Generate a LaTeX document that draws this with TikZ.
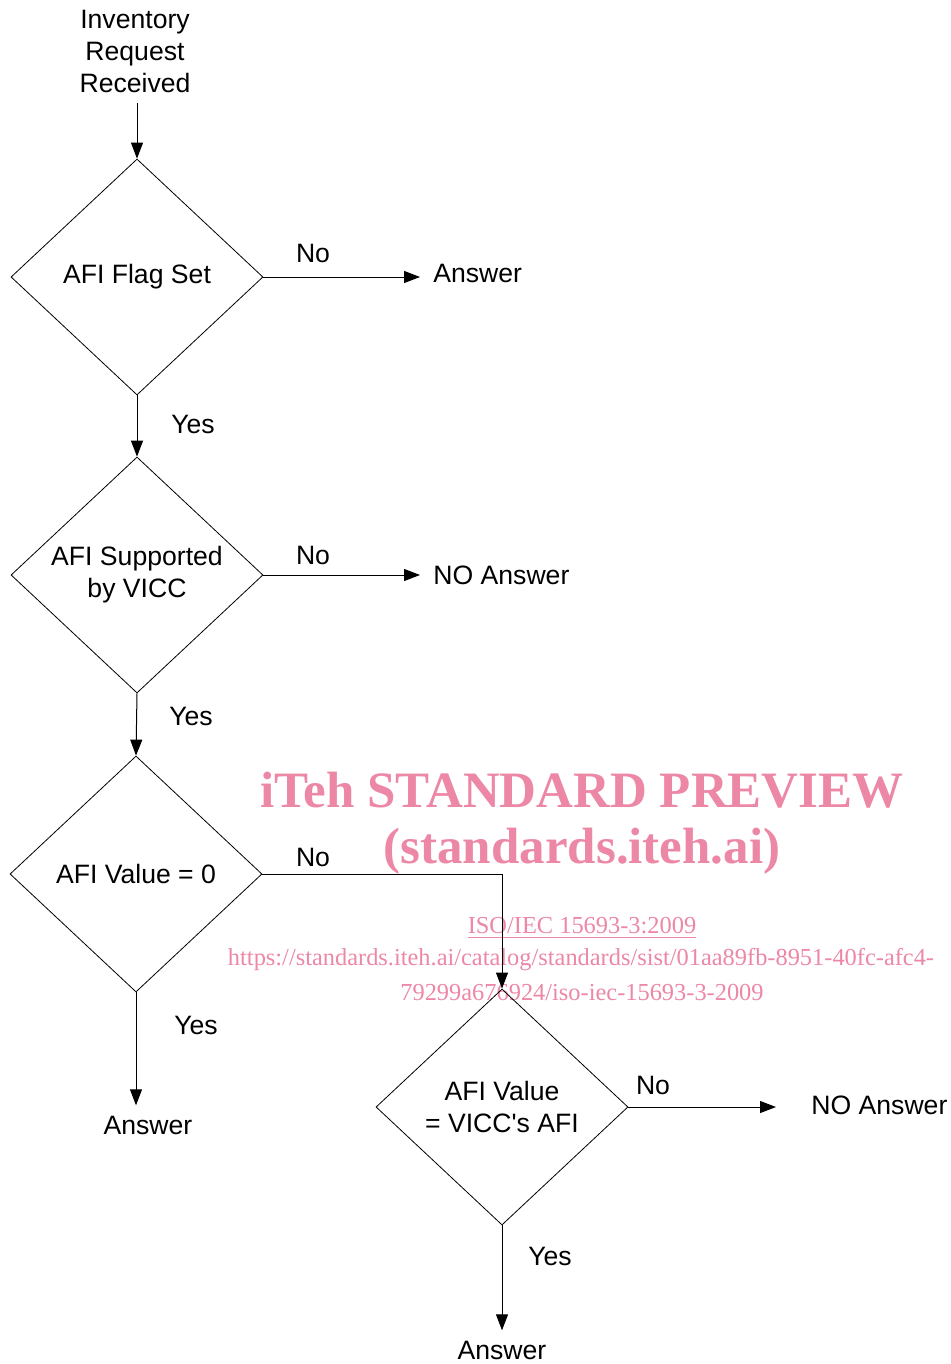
\documentclass[tikz,border=0pt]{standalone}
\usepackage{fontspec}
\setmainfont{Liberation Sans}
\newfontfamily\wmfont{Liberation Serif}
\usetikzlibrary{shapes.geometric,arrows.meta}
\definecolor{wmpink}{RGB}{236,135,166}

\begin{document}
\begin{tikzpicture}[x=0.5pt, y=-0.5pt,
    decision/.style={draw, diamond, inner sep=0pt, minimum width=126pt, minimum height=118pt, align=center, font=\fontsize{13.3}{16}\selectfont},
    txt/.style={inner sep=5pt, align=center, font=\fontsize{13.3}{16}\selectfont},
    lbl/.style={inner sep=0pt, font=\fontsize{13.3}{16}\selectfont},
    flow/.style={-{Triangle[length=8pt,width=6pt]}, line width=0.5pt},
    wm/.style={text=wmpink, inner sep=0pt, font=\wmfont\fontsize{12.2}{15}\selectfont},
    wmbig/.style={text=wmpink, inner sep=0pt, font=\wmfont\bfseries\fontsize{25.5}{30}\selectfont}]
  \useasboundingbox (0,0) rectangle (950,1364);

  % watermark
  \node[wmbig] (wm1) at (582,790) {iTeh STANDARD PREVIEW};
  \node[wmbig] (wm2) at (582,851) {(standards.iteh.ai)};
  \node[wm] (wm3) at (582,928) {\underline{ISO/IEC 15693-3:2009}};
  \node[wm] (wm4) at (581,960) {https://standards.iteh.ai/catalog/standards/sist/01aa89fb-8951-40fc-afc4-};
  \node[wm] (wm5) at (582,992) {79299a676924/iso-iec-15693-3-2009};

  % decisions
  \node[txt] (start) at (135,51) {Inventory\\Request\\Received};
  \node[decision] (flag) at (137,277) {\strut AFI Flag Set};
  \node[decision] (supp) at (137,575) {AFI Supported\\by VICC};
  \node[decision] (zero) at (136,874) {AFI Value = 0};
  \node[decision] (match) at (502,1107) {AFI Value\\= VICC\textquotesingle s AFI};

  % outcomes
  \node[txt, anchor=west] (ans1) at (423,273) {Answer};
  \node[txt, anchor=west] (noans1) at (423,575) {NO Answer};
  \node[txt] (ans2) at (148,1125) {Answer};
  \node[txt, anchor=west] (noans2) at (801,1105) {NO Answer};
  \node[txt] (ans3) at (502,1350) {Answer};

  % labels
  \node[lbl] (no1) at (313,253) {No};
  \node[lbl] (no2) at (313,555) {No};
  \node[lbl] (no3) at (313,857) {No};
  \node[lbl] (no4) at (653,1085) {No};
  \node[lbl] (yes1) at (193,424) {Yes};
  \node[lbl] (yes2) at (191,716) {Yes};
  \node[lbl] (yes3) at (196,1025) {Yes};
  \node[lbl] (yes4) at (550,1256) {Yes};

  % connectors
  \draw[flow] (start.south -| flag.north) -- (flag.north);
  \draw[flow] (flag.east) -- ([xshift=-1.5pt]ans1.west |- flag.east);
  \draw[flow] (flag.south) -- (supp.north);
  \draw[flow] (supp.east) -- ([xshift=-1.5pt]noans1.west |- supp.east);
  \draw[flow] (supp.south) -- (zero.north);
  \draw[flow] (zero.east) -| (match.north);
  \draw[flow] (zero.south) -- (zero.south |- ans2.north);
  \draw[flow] (match.east) -- ([xshift=-12.5pt]noans2.west |- match.east);
  \draw[flow] (match.south) -- (ans3.north);
\end{tikzpicture}
\end{document}
